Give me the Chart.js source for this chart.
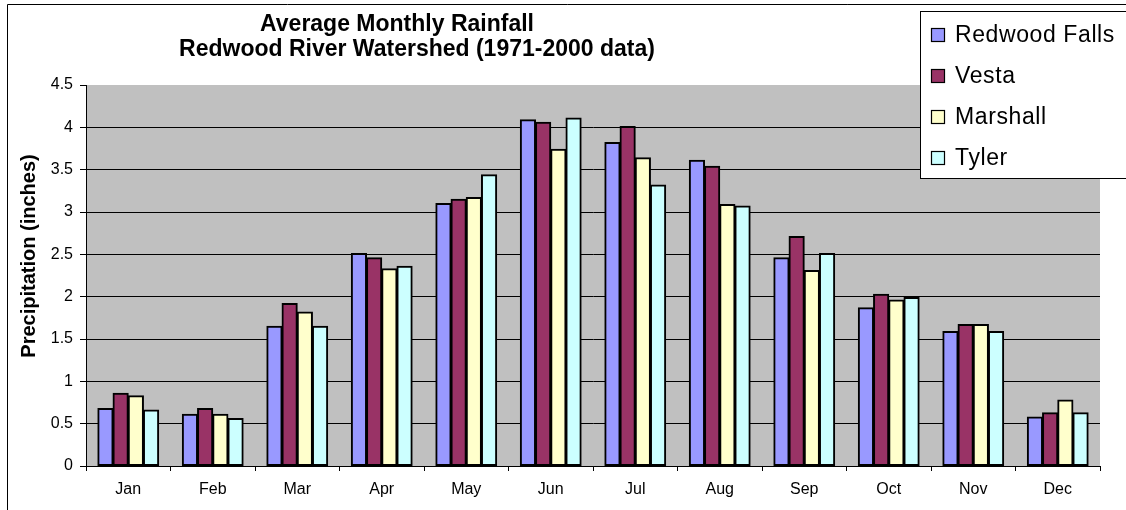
<!DOCTYPE html>
<html>
<head>
<meta charset="utf-8">
<script src="https://cdn.jsdelivr.net/npm/chart.js@4/dist/chart.umd.min.js"></script>
<style>
  html, body { margin: 0; padding: 0; background: #fff; }
  #wrap { position: relative; width: 1126px; height: 510px; }
</style>
</head>
<body>
<div id="wrap"><canvas id="c" width="1126" height="510"></canvas></div>
<script>
const months = ["Jan","Feb","Mar","Apr","May","Jun","Jul","Aug","Sep","Oct","Nov","Dec"];
const redwoodFalls = [0.68, 0.61, 1.65, 2.51, 3.10, 4.09, 3.82, 3.61, 2.46, 1.87, 1.59, 0.58];
const vesta        = [0.86, 0.68, 1.92, 2.46, 3.15, 4.06, 4.01, 3.54, 2.71, 2.03, 1.67, 0.63];
const marshall     = [0.83, 0.61, 1.82, 2.33, 3.17, 3.74, 3.64, 3.09, 2.31, 1.96, 1.67, 0.78];
const tyler        = [0.66, 0.56, 1.65, 2.36, 3.44, 4.11, 3.32, 3.07, 2.51, 1.99, 1.59, 0.63];
const seriesNames  = ["Redwood Falls", "Vesta", "Marshall", "Tyler"];
const seriesColors = ["#9999FF", "#993366", "#FFFFCC", "#CCFFFF"];
const titleLines   = ["Average Monthly Rainfall", "Redwood River Watershed (1971-2000 data)"];
const yTitle       = "Precipitation (inches)";
const yMin = 0, yMax = 4.5, yStep = 0.5;

const FONT = "'Liberation Sans', Arial, sans-serif";

const decor = {
  id: 'decor',
  beforeDraw(chart) {
    const ctx = chart.ctx, a = chart.chartArea;
    ctx.save();
    ctx.fillStyle = '#C0C0C0';
    ctx.fillRect(a.left, a.top, a.right - a.left, a.bottom - a.top);
    ctx.restore();
  },
  afterDraw(chart) {
    const ctx = chart.ctx;
    ctx.save();
    // outer frame
    ctx.strokeStyle = '#000';
    ctx.lineWidth = 1;
    ctx.beginPath();
    ctx.moveTo(7.5, 520); ctx.lineTo(7.5, 4.5); ctx.lineTo(1130, 4.5);
    ctx.stroke();
    // titles
    ctx.fillStyle = '#000';
    ctx.font = "bold 23px " + FONT;
    ctx.textAlign = 'center';
    ctx.textBaseline = 'middle';
    ctx.fillText(titleLines[0], 397, 25);
    ctx.fillText(titleLines[1], 417, 50);
    // y title
    ctx.save();
    ctx.translate(29, 256);
    ctx.rotate(-Math.PI / 2);
    ctx.font = "bold 20px " + FONT;
    ctx.fillText(yTitle, 0, 0);
    ctx.restore();
    // legend
    const lx = 920.5, ly = 11.5;
    ctx.fillStyle = '#fff';
    ctx.fillRect(lx, ly, 300, 167);
    ctx.strokeStyle = '#000';
    ctx.lineWidth = 1;
    ctx.strokeRect(lx, ly, 300, 167);
    ctx.font = "23px " + FONT;
    if ('letterSpacing' in ctx) ctx.letterSpacing = '0.6px';
    ctx.textAlign = 'left';
    chart.data.datasets.forEach((ds, i) => {
      const cy = 35 + i * 41;
      ctx.fillStyle = ds.backgroundColor;
      ctx.fillRect(931.5, cy - 6.5, 13, 13);
      ctx.strokeStyle = '#000';
      ctx.lineWidth = 1.2;
      ctx.strokeRect(931.5, cy - 6.5, 13, 13);
      ctx.fillStyle = '#000';
      ctx.fillText(ds.label, 955, cy + 1);
    });
    ctx.restore();
  }
};

const seriesData = [redwoodFalls, vesta, marshall, tyler];
new Chart(document.getElementById('c'), {
  type: 'bar',
  data: {
    labels: months,
    datasets: seriesData.map((d, i) => ({
      label: seriesNames[i],
      data: d,
      backgroundColor: seriesColors[i],
      borderColor: '#000',
      borderWidth: 2,
      borderSkipped: false,
      inflateAmount: 0.5,
      categoryPercentage: 0.72,
      barPercentage: 1.0
    }))
  },
  options: {
    responsive: false,
    animation: false,
    devicePixelRatio: 1,
    layout: { padding: { left: 0, right: 26, top: 85, bottom: 0 } },
    plugins: { legend: { display: false }, title: { display: false }, tooltip: { enabled: false } },
    scales: {
      x: {
        offset: true,
        grid: { offset: true, drawOnChartArea: false, color: '#000', tickLength: 5, tickColor: '#000' },
        border: { color: '#000', width: 1 },
        ticks: { color: '#000', font: { family: FONT, size: 16 }, padding: 9, maxRotation: 0 },
        afterFit(s) { s.height = 44; }
      },
      y: {
        min: yMin, max: yMax,
        grid: {
          color: (c) => (c.tick && c.tick.value >= yMax ? 'rgba(0,0,0,0)' : '#000'),
          tickColor: '#000', tickLength: 6, lineWidth: 1
        },
        border: { color: '#000', width: 1 },
        ticks: {
          stepSize: yStep, color: '#000', font: { family: FONT, size: 16 }, padding: 7,
          callback: (v) => String(Math.round(v * 10) / 10)
        },
        afterFit(s) { s.width = 86; }
      }
    }
  },
  plugins: [decor]
});
</script>
</body>
</html>
